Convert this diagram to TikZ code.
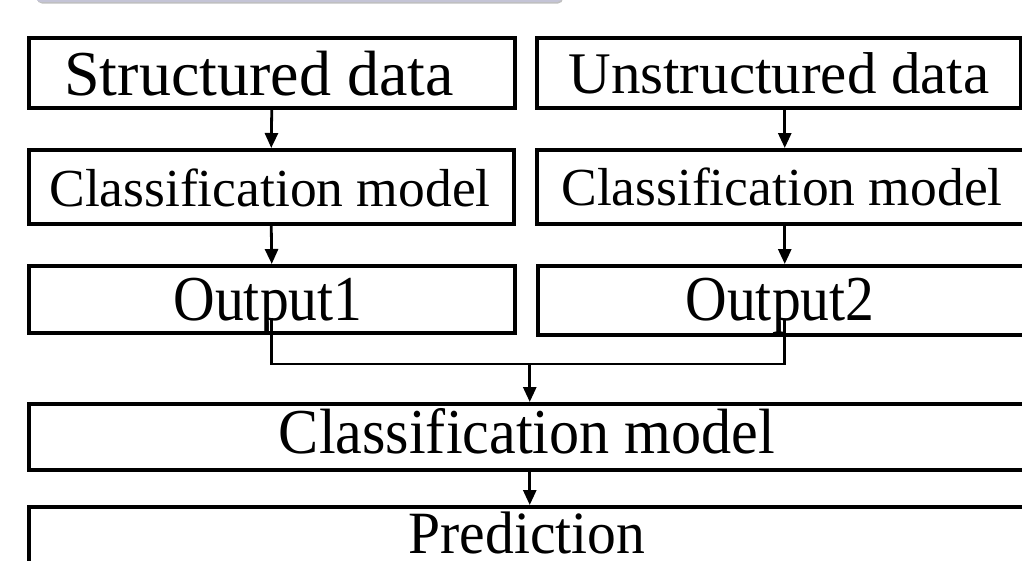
\documentclass[tikz,border=0pt]{standalone}
\usepackage{fontspec}
\setmainfont{Liberation Serif}
\usetikzlibrary{arrows.meta,calc}
\definecolor{panel}{RGB}{196,196,214}
\newcommand{\fs}[1]{\fontsize{#1}{#1}\selectfont}
\begin{document}
\begin{tikzpicture}[x=1pt,y=-1pt,
  boxshape/.style={draw=black,line width=3.5pt,fill=white,rectangle,inner sep=0pt,anchor=north west},
  label/.style={anchor=base,inner sep=0pt,outer sep=0pt},
  link/.style={draw=black,line width=2.8pt},
  arr/.style={link,-{Triangle[width=13pt,length=15pt]}}]
\useasboundingbox (0,0) rectangle (1022,560);
\clip (0,0) rectangle (1022,560);
\fill[white] (0,0) rectangle (1022,560);

% strip of a panel above the chart
\fill[black!25,rounded corners=5pt] (37,-20) rectangle (563,3.5);
\fill[panel,rounded corners=5pt] (36,-20) rectangle (562,2.2);

% boxes
\node[boxshape,minimum width=486pt,minimum height=70pt] (sd) at (27,36) {};
\node[boxshape,minimum width=484pt,minimum height=70pt] (ud) at (535,36) {};
\node[boxshape,minimum width=485pt,minimum height=74pt] (c1) at (27,148) {};
\node[boxshape,minimum width=496pt,minimum height=74pt] (c2) at (535,148) {};
\node[boxshape,minimum width=486pt,minimum height=67pt] (o1) at (27,264) {};
\node[boxshape,minimum width=494pt,minimum height=69pt] (o2) at (536,264) {};
\node[boxshape,minimum width=1002pt,minimum height=66pt] (c3) at (27,402) {};
\node[boxshape,minimum width=1002pt,minimum height=95pt] (pr) at (27,505) {};

% texts
\node[label] (tsd) at (259,95) {\fs{64}Structured data};
\node[label] (tud) at (779,93) {\fs{59}Unstructured data};
\node[label] (tc1) at (270,206) {\fs{53.5}Classification model};
\node[label] (tc2) at (782,205) {\fs{53.5}Classification model};
\node[label] (to1) at (268,320) {\scalebox{0.9}[1]{\fs{64}Output1}};
\node[label] (to2) at (780,320) {\scalebox{0.9}[1]{\fs{64}Output2}};
\node[label] (tc3) at (527,453) {\scalebox{0.94}[1]{\fs{64}Classification model}};
\node[label,text depth=0pt] (tpr) at (527,553) {\scalebox{0.96}[1]{\fs{60}Prediction}};

% connectors
\coordinate (o1in) at ($(o1.center)+(0,18.5)$);
\coordinate (o2in) at ($(o2.center)+(0,18.5)$);
\coordinate (j) at ($(c3.north)+(0,-38)$);
\draw[arr] (sd.south) -- (c1.north);
\draw[arr] (c1.south) -- (o1.north);
\draw[arr] (ud.south -| c2.north) -- (c2.north);
\draw[arr] (c2.south) -- (o2.north);
\draw[link] (o1in) |- (j) -| (o2in);
\draw[arr] (j) -- (c3.north);
\draw[arr] (c3.south) -- (pr.north);
\end{tikzpicture}
\end{document}
